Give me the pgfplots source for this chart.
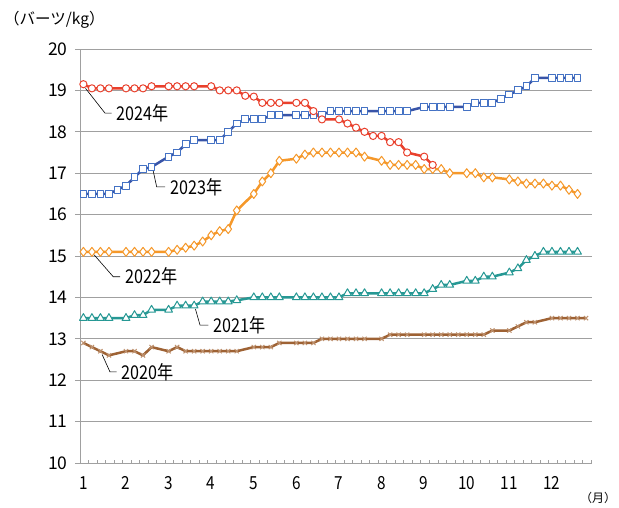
\documentclass[border=0pt]{standalone}
\usepackage{fontspec}
\setmainfont{Noto Sans CJK JP}
\newfontfamily\cond{Noto Sans CJK JP}[FakeStretch=0.85]
\usepackage{pgfplots}
\pgfplotsset{compat=1.18}
\definecolor{c24}{RGB}{233,64,44}
\definecolor{c23}{RGB}{56,84,168}
\definecolor{c23m}{RGB}{68,114,196}
\definecolor{c22}{RGB}{245,152,42}
\definecolor{c21}{RGB}{38,152,148}
\definecolor{c20}{RGB}{158,98,52}
\definecolor{c20m}{RGB}{190,145,110}
\definecolor{gridc}{RGB}{160,160,160}
\begin{document}
\begin{tikzpicture}
\useasboundingbox (-80pt,-44pt) rectangle (539pt,463pt);
\begin{axis}[
  at={(0pt,0pt)}, anchor=south west,
  scale only axis, width=512pt, height=414pt,
  xmin=-0.4, xmax=59.7, ymin=10, ymax=20,
  axis x line*=bottom, axis y line*=left,
  axis line style={gridc, line width=0.8pt, -},
  xtick={0,5,10,15,20,25,30,35,40,45,50,55},
  xticklabels={1,2,3,4,5,6,7,8,9,10,11,12},
  minor xtick={-0.4,0.6,...,59.6},
  ytick={10,11,12,13,14,15,16,17,18,19,20},
  yticklabels={10,11,12,13,14,15,16,17,18,19,20},
  ymajorgrids, major grid style={gridc, line width=0.8pt},
  xtick align=inside, ytick align=outside,
  major tick length=5pt, minor tick length=3.5pt,
  major x tick style={draw=none},
  minor x tick style={gridc, line width=0.6pt},
  major y tick style={gridc, line width=0.8pt},
  xticklabel style={font=\cond\fontsize{18}{18}\selectfont, yshift=-10pt},
  yticklabel style={font=\fontsize{17.5}{17.5}\selectfont, xshift=-4pt},
  clip=false,
  every axis plot/.append style={line join=round},
]
% 2020
\addplot[c20, line width=2.5pt, mark=x, mark size=3pt, mark options={c20m, line width=1pt}] coordinates {
(0,12.9)(1,12.8)(2,12.7)(3,12.6)(5,12.7)(6,12.7)(7,12.6)(8,12.8)(10,12.7)(11,12.8)(12,12.7)(13,12.7)(14,12.7)(15,12.7)(16,12.7)(17,12.7)(18,12.7)(20,12.8)(21,12.8)(22,12.8)(23,12.9)(25,12.9)(26,12.9)(27,12.9)(28,13.0)(29,13.0)(30,13.0)(31,13.0)(32,13.0)(33,13.0)(35,13.0)(36,13.1)(37,13.1)(38,13.1)(40,13.1)(41,13.1)(42,13.1)(43,13.1)(44,13.1)(45,13.1)(46,13.1)(47,13.1)(48,13.2)(50,13.2)(51,13.3)(52,13.4)(53,13.4)(55,13.5)(56,13.5)(57,13.5)(58,13.5)(59,13.5)
};
% 2021
\addplot[c21, line width=2.5pt, mark=triangle*, mark size=4.5pt, mark options={fill=white, draw=c21, line width=1pt}] coordinates {
(0,13.5)(1,13.5)(2,13.5)(3,13.5)(5,13.5)(6,13.57)(7,13.57)(8,13.7)(10,13.7)(11,13.8)(12,13.8)(13,13.8)(14,13.9)(15,13.9)(16,13.9)(17,13.9)(18,13.93)(20,14.0)(21,14.0)(22,14.0)(23,14.0)(25,14.0)(26,14.0)(27,14.0)(28,14.0)(29,14.0)(30,14.0)(31,14.1)(32,14.1)(33,14.1)(35,14.1)(36,14.1)(37,14.1)(38,14.1)(39,14.1)(40,14.1)(41,14.2)(42,14.3)(43,14.3)(45,14.4)(46,14.4)(47,14.5)(48,14.5)(50,14.6)(51,14.7)(52,14.9)(53,15.0)(54,15.1)(55,15.1)(56,15.1)(57,15.1)(58,15.1)
};
% 2022
\addplot[c22, line width=2.5pt, mark=diamond*, mark size=4.5pt, mark options={fill=white, draw=c22, line width=1pt}] coordinates {
(0,15.1)(1,15.1)(2,15.1)(3,15.1)(5,15.1)(6,15.1)(7,15.1)(8,15.1)(10,15.1)(11,15.15)(12,15.2)(13,15.25)(14,15.35)(15,15.5)(16,15.6)(17,15.65)(18,16.1)(20,16.5)(21,16.8)(22,17.0)(23,17.3)(25,17.35)(26,17.45)(27,17.5)(28,17.5)(29,17.5)(30,17.5)(31,17.5)(32,17.5)(33,17.4)(35,17.3)(36,17.2)(37,17.2)(38,17.2)(39,17.2)(40,17.1)(41,17.1)(42,17.1)(43,17.0)(45,17.0)(46,17.0)(47,16.9)(48,16.9)(50,16.85)(51,16.8)(52,16.75)(53,16.75)(54,16.75)(55,16.7)(56,16.7)(57,16.6)(58,16.5)
};
% 2023
\addplot[c23, line width=2.5pt, mark=square*, mark size=3.4pt, mark options={fill=white, draw=c23m, line width=1pt}] coordinates {
(0,16.5)(1,16.5)(2,16.5)(3,16.5)(4,16.6)(5,16.7)(6,16.9)(7,17.1)(8,17.15)(10,17.4)(11,17.5)(12,17.7)(13,17.8)(15,17.8)(16,17.8)(17,18.0)(18,18.2)(19,18.3)(20,18.3)(21,18.3)(22,18.4)(23,18.4)(25,18.4)(26,18.4)(27,18.4)(28,18.4)(29,18.5)(30,18.5)(31,18.5)(32,18.5)(33,18.5)(35,18.5)(36,18.5)(37,18.5)(38,18.5)(40,18.6)(41,18.6)(42,18.6)(43,18.6)(45,18.6)(46,18.7)(47,18.7)(48,18.7)(49,18.8)(50,18.9)(51,19.0)(52,19.1)(53,19.3)(55,19.3)(56,19.3)(57,19.3)(58,19.3)
};
% 2024
\addplot[c24, line width=2.5pt, mark=*, mark size=3.6pt, mark options={fill=white, draw=c24, line width=1pt}] coordinates {
(0,19.15)(1,19.05)(2,19.05)(3,19.05)(5,19.05)(6,19.05)(7,19.05)(8,19.1)(10,19.1)(11,19.1)(12,19.1)(13,19.1)(15,19.1)(16,19.0)(17,19.0)(18,19.0)(19,18.87)(20,18.85)(21,18.7)(22,18.7)(23,18.7)(25,18.7)(26,18.7)(27,18.5)(28,18.3)(30,18.3)(31,18.2)(32,18.1)(33,18.0)(34,17.9)(35,17.9)(36,17.75)(37,17.75)(38,17.5)(40,17.4)(41,17.2)
};
% labels with leader lines
\tikzset{lbl/.style={anchor=west, inner sep=0pt, xshift=5pt, font=\cond\fontsize{19}{19}\selectfont}}
\draw[black, line width=0.6pt] (axis cs:0.25,19.05) -- (axis cs:2.54,18.45) -- (axis cs:3.32,18.45) node[lbl] {2024年};
\draw[black, line width=0.6pt] (axis cs:8.2,17.05) -- (axis cs:8.6,16.67) -- (axis cs:9.58,16.67) node[lbl] {2023年};
\draw[black, line width=0.6pt] (axis cs:1.25,15.03) -- (axis cs:3.5,14.5) -- (axis cs:4.3,14.5) node[lbl] {2022年};
\draw[black, line width=0.6pt] (axis cs:13.15,13.72) -- (axis cs:13.69,13.33) -- (axis cs:14.66,13.33) node[lbl] {2021年};
\draw[black, line width=0.6pt] (axis cs:2.2,12.62) -- (axis cs:3.12,12.2) -- (axis cs:3.9,12.2) node[lbl] {2020年};
\end{axis}
\node[anchor=west, inner sep=0pt, font=\fontsize{15.5}{15.5}\selectfont] at (-76pt,443pt) {（バーツ/kg）};
\node[anchor=west, inner sep=0pt, font=\fontsize{12}{12}\selectfont] at (500pt,-35pt) {（月）};
\end{tikzpicture}
\end{document}
